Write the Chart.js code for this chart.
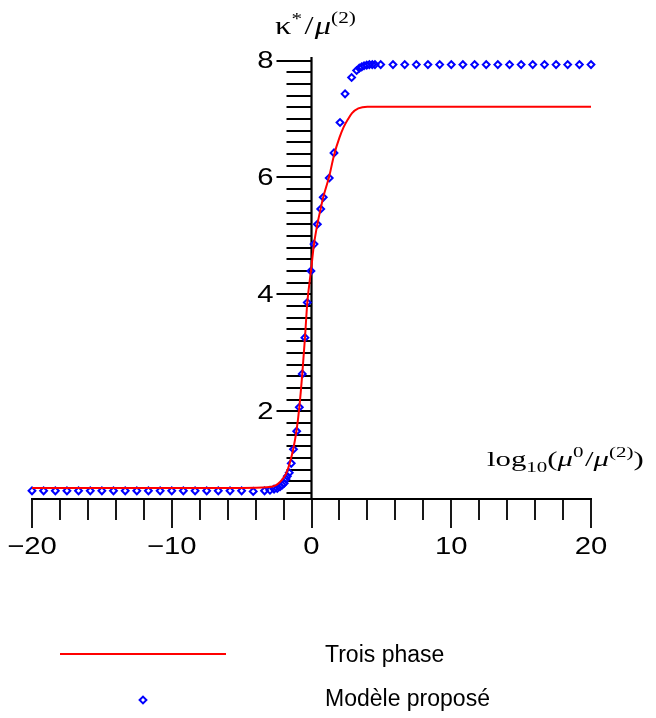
<!DOCTYPE html>
<html>
<head>
<meta charset="utf-8">
<script src="https://cdn.jsdelivr.net/npm/chart.js@4.4.1/dist/chart.umd.min.js"></script>
<style>
  body { margin: 0; background: #fff; }
  canvas { display: block; }
</style>
</head>
<body>
<canvas id="kappaChart" width="656" height="718"></canvas>
<script>
// axes
const xMin = -20, xMax = 20;
const yMin = 0.5, yMax = 8.06;
const xTickStep = 2;
const xTickLabels = [-20, -10, 0, 10, 20];
const yTickStep = 0.2;
const yTickLabels = [2, 4, 6, 8];

// "Trois phase" curve
const threePhaseX = [-20, -10, -5, -3.2, -2.6, -2.25, -1.95, -1.77, -1.54, -1.3, -1.06, -0.87, -0.66, -0.47, -0.3, -0.04, 0.18, 0.42, 0.66, 0.84, 1.27, 1.61, 2.0, 2.3, 2.6, 2.9, 3.35, 4.0, 5.0, 10, 20];
const threePhaseY = [0.69, 0.69, 0.69, 0.70, 0.73, 0.79, 0.88, 0.96, 1.13, 1.36, 1.69, 2.07, 2.64, 3.25, 3.86, 4.40, 4.86, 5.20, 5.47, 5.66, 6.02, 6.38, 6.68, 6.86, 6.99, 7.10, 7.18, 7.21, 7.21, 7.21, 7.21];

// "Modèle proposé" points
const modelX = [-20, -19.17, -18.33, -17.5, -16.67, -15.83, -15, -14.17, -13.33, -12.5, -11.67, -10.83, -10, -9.17, -8.33, -7.5, -6.67, -5.83, -5, -4.17, -3.36,
  -2.97, -2.68, -2.45, -2.25, -2.09, -1.95, -1.82, -1.73, -1.59, -1.45, -1.29, -1.06, -0.87, -0.66, -0.47, -0.3, -0.04, 0.18, 0.42, 0.66, 0.84, 1.27, 1.61, 2.04, 2.4, 2.87, 3.23, 3.42, 3.59, 3.76, 3.95, 4.14, 4.35, 4.54, 4.95,
  5.83, 6.67, 7.5, 8.33, 9.17, 10, 10.83, 11.67, 12.5, 13.33, 14.17, 15, 15.83, 16.67, 17.5, 18.33, 19.17, 20];
const modelY = [0.64, 0.64, 0.64, 0.64, 0.64, 0.64, 0.64, 0.64, 0.64, 0.64, 0.64, 0.64, 0.64, 0.64, 0.64, 0.64, 0.64, 0.64, 0.64, 0.63, 0.64,
  0.65, 0.67, 0.68, 0.71, 0.74, 0.77, 0.84, 0.89, 0.95, 1.11, 1.35, 1.66, 2.07, 2.64, 3.26, 3.86, 4.40, 4.86, 5.20, 5.46, 5.66, 5.99, 6.42, 6.94, 7.43, 7.71, 7.83, 7.87, 7.89, 7.91, 7.92, 7.93, 7.93, 7.93, 7.93,
  7.93, 7.93, 7.93, 7.93, 7.93, 7.93, 7.93, 7.93, 7.93, 7.93, 7.93, 7.93, 7.93, 7.93, 7.93, 7.93, 7.93, 7.93];

const seriesLabels = ["Trois phase", "Modèle proposé"];

const toPoints = (xs, ys) => xs.map((x, i) => ({ x: x, y: ys[i] }));

const tickFont = "24px 'Liberation Sans', Arial, sans-serif";
const tickStretch = 1.22;

function stretchedText(ctx, text, x, y, align, sx) {
  ctx.save();
  ctx.font = tickFont;
  const w = ctx.measureText(text).width * sx;
  let left = x;
  if (align === "center") left = x - w / 2;
  if (align === "right") left = x - w;
  ctx.translate(left, y);
  ctx.scale(sx, 1);
  ctx.textAlign = "left";
  ctx.textBaseline = "middle";
  ctx.fillText(text, 0, 0);
  ctx.restore();
}

// math-like label made of runs, stretched horizontally by sx
function drawRuns(ctx, x, y, sx, runs) {
  ctx.save();
  ctx.translate(x, y);
  ctx.scale(sx, 1);
  let cx = 0;
  runs.forEach(r => {
    ctx.font = r.font;
    ctx.fillText(r.t, cx, r.dy || 0);
    cx += ctx.measureText(r.t).width + (r.gap || 0);
  });
  ctx.restore();
}

const axesPlugin = {
  id: "crossAxes",
  beforeDatasetsDraw(chart) {
    const ctx = chart.ctx;
    const xs = chart.scales.x, ys = chart.scales.y;
    const x0 = xs.getPixelForValue(0);
    const yBase = ys.getPixelForValue(yMin);
    ctx.save();
    ctx.strokeStyle = "#000";
    ctx.fillStyle = "#000";
    ctx.lineWidth = 2.2;
    ctx.beginPath();
    ctx.moveTo(xs.getPixelForValue(xMin) - 1, yBase);
    ctx.lineTo(xs.getPixelForValue(xMax) + 1, yBase);
    ctx.moveTo(x0, yBase);
    ctx.lineTo(x0, ys.getPixelForValue(yMax));
    ctx.stroke();

    // x ticks
    ctx.lineWidth = 1.8;
    ctx.beginPath();
    for (let v = xMin; v <= xMax + 1e-9; v += xTickStep) {
      const px = Math.round(xs.getPixelForValue(v));
      const major = xTickLabels.includes(Math.round(v));
      ctx.moveTo(px, yBase);
      ctx.lineTo(px, yBase + (major ? 29 : 21));
    }
    // y ticks
    for (let v = yMin + 0.1; v <= 8 + 1e-9; v += yTickStep) {
      const py = Math.round(ys.getPixelForValue(v));
      const major = yTickLabels.some(t => Math.abs(t - v) < 1e-6);
      ctx.moveTo(x0, py);
      ctx.lineTo(x0 - (major ? 35 : 25), py);
    }
    ctx.stroke();

    xTickLabels.forEach(t => {
      const txt = t < 0 ? "\u2212" + Math.abs(t) : String(t);
      stretchedText(ctx, txt, xs.getPixelForValue(t), yBase + 48, "center", tickStretch);
    });
    yTickLabels.forEach(t => {
      stretchedText(ctx, String(t), x0 - 38, ys.getPixelForValue(t) + 1, "right", tickStretch);
    });

    // axis titles
    ctx.textAlign = "left";
    ctx.textBaseline = "alphabetic";
    const serif = "'Liberation Serif', 'DejaVu Serif', serif";
    drawRuns(ctx, 275, 34, 1.25, [
      { t: "\u03BA", font: "26px " + serif },
      { t: "*", font: "17px " + serif, dy: -10, gap: 2 },
      { t: "/", font: "26px " + serif, gap: 1 },
      { t: "\u03BC", font: "italic 26px " + serif },
      { t: "(2)", font: "17px " + serif, dy: -11 }
    ]);
    drawRuns(ctx, 487, 466, 1.4, [
      { t: "log", font: "22px " + serif },
      { t: "10", font: "15px " + serif, dy: 6 },
      { t: "(", font: "22px " + serif },
      { t: "\u03BC", font: "italic 22px " + serif },
      { t: "0", font: "15px " + serif, dy: -9, gap: 1 },
      { t: "/", font: "22px " + serif },
      { t: "\u03BC", font: "italic 22px " + serif },
      { t: "(2)", font: "15px " + serif, dy: -9 },
      { t: ")", font: "22px " + serif }
    ]);
    ctx.restore();
  },
  afterDraw(chart) {
    const ctx = chart.ctx;
    const ds = chart.data.datasets;
    ctx.save();
    // legend
    ctx.strokeStyle = ds[0].borderColor;
    ctx.lineWidth = 2;
    ctx.beginPath();
    ctx.moveTo(60, 654);
    ctx.lineTo(226, 654);
    ctx.stroke();
    ctx.strokeStyle = ds[1].borderColor;
    ctx.lineWidth = ds[1].borderWidth;
    const r = ds[1].pointRadius;
    ctx.beginPath();
    ctx.moveTo(143 - r, 700);
    ctx.lineTo(143, 700 - r);
    ctx.lineTo(143 + r, 700);
    ctx.lineTo(143, 700 + r);
    ctx.closePath();
    ctx.stroke();
    ctx.fillStyle = "#000";
    ctx.font = "23px 'Liberation Sans', Arial, sans-serif";
    ctx.textBaseline = "middle";
    ctx.textAlign = "left";
    ctx.fillText(ds[0].label, 325, 656);
    ctx.fillText(ds[1].label, 325, 700);
    ctx.restore();
  }
};

const ctx = document.getElementById("kappaChart").getContext("2d");
const kappaChart = new Chart(ctx, {
  type: "scatter",
  data: {
    datasets: [{
      label: seriesLabels[0],
      data: toPoints(threePhaseX, threePhaseY),
      showLine: true,
      borderColor: "#ff0000",
      borderWidth: 2,
      pointRadius: 0,
      cubicInterpolationMode: "monotone",
      clip: false
    }, {
      label: seriesLabels[1],
      data: toPoints(modelX, modelY),
      showLine: false,
      pointStyle: "rectRot",
      pointRadius: 3.4,
      borderColor: "#0000ff",
      backgroundColor: "rgba(0,0,0,0)",
      borderWidth: 2,
      clip: false
    }]
  },
  options: {
    responsive: false,
    animation: false,
    layout: { padding: { left: 32, right: 65, top: 57, bottom: 219 } },
    scales: {
      x: { type: "linear", min: xMin, max: xMax, display: false },
      y: { type: "linear", min: yMin, max: yMax, display: false }
    },
    plugins: {
      legend: { display: false },
      tooltip: { enabled: false }
    }
  },
  plugins: [axesPlugin]
});
</script>
</body>
</html>
